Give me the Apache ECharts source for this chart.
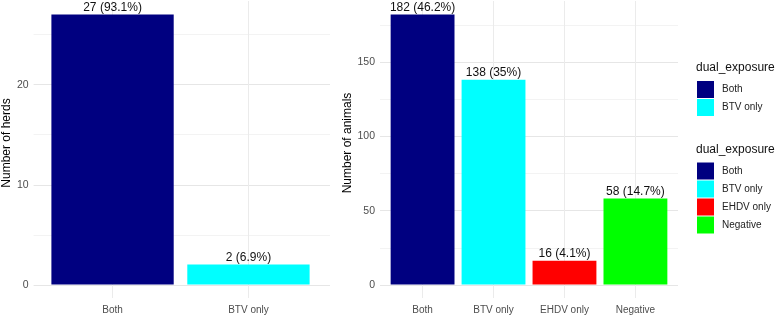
<!DOCTYPE html>
<html>
<head>
<meta charset="utf-8">
<script src="https://cdn.jsdelivr.net/npm/echarts@6/dist/echarts.min.js"></script>
<style>
html,body{margin:0;padding:0;background:#fff;}
#chart{width:776px;height:315px;}
</style>
</head>
<body>
<div id="chart"></div>
<script>
// ---- data ----
var herdCategories = ['Both', 'BTV only'];
var herdCounts = [27, 2];
var herdPercents = ['93.1%', '6.9%'];

var animalCategories = ['Both', 'BTV only', 'EHDV only', 'Negative'];
var animalCounts = [182, 138, 16, 58];
var animalPercents = ['46.2%', '35%', '4.1%', '14.7%'];

var categoryColors = {'Both': '#000080', 'BTV only': '#00FFFF', 'EHDV only': '#FF0000', 'Negative': '#00FF00'};

var herdYTicks = [0, 10, 20];
var animalYTicks = [0, 50, 100, 150];

// ---- layout helpers ----
var FONT = 'Liberation Sans, Arial, sans-serif';
var TOP = 1, BOTTOM = 30, BOTTOM_EXP = 16.5;
var herdYMax = 28.35, herdYMinExp = -1.35;
var animalYMax = 191.1, animalYMinExp = -9.1;

function grid(left, width, bottom) { return {left: left, width: width, top: TOP, bottom: bottom}; }

var chart = echarts.init(document.getElementById('chart'), null, {renderer: 'canvas'});

function makeSeries(cats, counts, pcts, gridIdx) {
  return cats.map(function (c, i) {
    var data = cats.map(function (_, j) { return j === i ? counts[i] : '-'; });
    return {
      type: 'bar', name: c, stack: 's' + gridIdx, barWidth: '90%',
      xAxisIndex: gridIdx, yAxisIndex: gridIdx,
      itemStyle: {color: categoryColors[c]},
      data: data,
      label: {
        show: true, position: 'top', distance: 1,
        fontFamily: FONT, fontSize: 12, color: '#111',
        formatter: function (p) { return counts[p.dataIndex] + ' (' + pcts[p.dataIndex] + ')'; }
      },
      emphasis: {disabled: true},
      z: 3
    };
  });
}

function valueY(gridIdx, max, interval, ticks, name, gap) {
  return {
    type: 'value', gridIndex: gridIdx, min: 0, max: max, interval: interval,
    name: name, nameLocation: 'middle', nameGap: gap,
    nameTextStyle: {fontFamily: FONT, fontSize: 12, color: '#000'},
    axisLine: {show: false}, axisTick: {show: false},
    axisLabel: {
      fontFamily: FONT, fontSize: 10.5, color: '#4d4d4d', margin: 5,
      formatter: function (v) { return ticks.indexOf(v) >= 0 ? String(v) : ''; }
    },
    splitLine: {show: true, showMaxLine: false, lineStyle: {color: ['#e6e6e6', '#f3f3f3'], width: 1}}
  };
}

function catX(gridIdx, cats) {
  return {
    type: 'category', gridIndex: gridIdx, data: cats,
    axisLine: {show: false}, axisTick: {show: false},
    axisLabel: {fontFamily: FONT, fontSize: 10, color: '#4d4d4d', margin: 7},
    splitLine: {show: true, alignWithLabel: true, lineStyle: {color: '#ebebeb', width: 1}}
  };
}

var option = {
  animation: false,
  backgroundColor: '#fff',
  textStyle: {fontFamily: FONT},
  title: [
    {text: 'dual_exposure', left: 696, top: 62, padding: 0, textStyle: {fontFamily: FONT, fontSize: 12, fontWeight: 'normal', color: '#111'}},
    {text: 'dual_exposure', left: 696, top: 144, padding: 0, textStyle: {fontFamily: FONT, fontSize: 12, fontWeight: 'normal', color: '#111'}}
  ],
  legend: [
    {orient: 'vertical', left: 697, top: 81, padding: 0, itemWidth: 17, itemHeight: 17, itemGap: 1,
     icon: 'rect', data: herdCategories, selectedMode: false,
     textStyle: {fontFamily: FONT, fontSize: 10, color: '#222', padding: [0, 0, 0, 3]}},
    {orient: 'vertical', left: 697, top: 162.5, padding: 0, itemWidth: 17, itemHeight: 17, itemGap: 1,
     icon: 'rect', data: animalCategories, selectedMode: false,
     textStyle: {fontFamily: FONT, fontSize: 10, color: '#222', padding: [0, 0, 0, 3]}}
  ],
  grid: [
    grid(31, 299, BOTTOM),                  // 0: herds background (gridlines, y labels)
    grid(380, 298, BOTTOM),                 // 1: animals background
    grid(31 + 13.6, 271.8, BOTTOM_EXP),     // 2: herds bars (expanded panel)
    grid(380 + 7.1, 283.8, BOTTOM_EXP)      // 3: animals bars (expanded panel)
  ],
  xAxis: [
    {type: 'value', gridIndex: 0, min: 0, max: 1, show: false},
    {type: 'value', gridIndex: 1, min: 0, max: 1, show: false},
    catX(2, herdCategories),
    catX(3, animalCategories)
  ],
  yAxis: [
    valueY(0, herdYMax, 5, herdYTicks, 'Number of herds', 18),
    valueY(1, animalYMax, 25, animalYTicks, 'Number of animals', 26),
    {type: 'value', gridIndex: 2, min: herdYMinExp, max: herdYMax, show: false, splitLine: {show: false}},
    {type: 'value', gridIndex: 3, min: animalYMinExp, max: animalYMax, show: false, splitLine: {show: false}}
  ],
  series: [].concat(
    makeSeries(herdCategories, herdCounts, herdPercents, 2),
    makeSeries(animalCategories, animalCounts, animalPercents, 3)
  )
};
chart.setOption(option);
</script>
</body>
</html>
